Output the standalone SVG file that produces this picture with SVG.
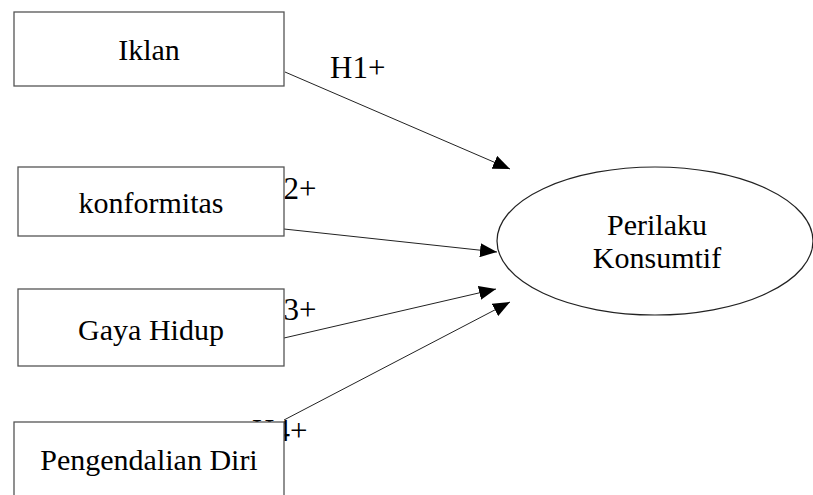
<svg xmlns="http://www.w3.org/2000/svg" width="813" height="495" viewBox="0 0 813 495">
<style>
text{font-family:"Liberation Serif","Times New Roman",serif;font-size:30px;fill:#000}
.box{fill:#fff;stroke:#555;stroke-width:1.3}
.lbl{font-size:31px}
.conn line{stroke:#222;stroke-width:1}
</style>
<defs>
<marker id="ah" markerUnits="userSpaceOnUse" markerWidth="18" markerHeight="14" refX="17" refY="7" orient="auto">
<path d="M0,0 L17,7 L0,14 z" fill="#000"/>
</marker>
</defs>
<g id="labels">
<text class="lbl" x="330" y="78">H1+</text>
<text class="lbl" x="261" y="199">H2+</text>
<text class="lbl" x="261" y="320">H3+</text>
<text class="lbl" x="252" y="441">H4+</text>
</g>
<g class="conn" id="connectors">
<line x1="285" y1="72" x2="510" y2="169" marker-end="url(#ah)"/>
<line x1="284" y1="229" x2="497" y2="252" marker-end="url(#ah)"/>
<line x1="284" y1="338" x2="496" y2="289" marker-end="url(#ah)"/>
<line x1="284" y1="420" x2="510" y2="302" marker-end="url(#ah)"/>
</g>
<g id="iklan"><rect class="box" x="14" y="12" width="270" height="74"/><text x="149" y="60" text-anchor="middle">Iklan</text></g>
<g id="konformitas"><rect class="box" x="18" y="167" width="266" height="69"/><text x="151" y="213" text-anchor="middle">konformitas</text></g>
<g id="gaya-hidup"><rect class="box" x="18" y="289" width="266" height="77"/><text x="151" y="340" text-anchor="middle">Gaya Hidup</text></g>
<g id="pengendalian-diri"><rect class="box" x="14" y="422" width="270" height="80"/><text x="149" y="470" text-anchor="middle">Pengendalian Diri</text></g>
<g id="perilaku-konsumtif"><ellipse cx="655" cy="241" rx="158" ry="74" fill="#fff" stroke="#222" stroke-width="1.2"/><text x="657" y="235" text-anchor="middle">Perilaku</text><text x="657" y="268" text-anchor="middle">Konsumtif</text></g>
</svg>
